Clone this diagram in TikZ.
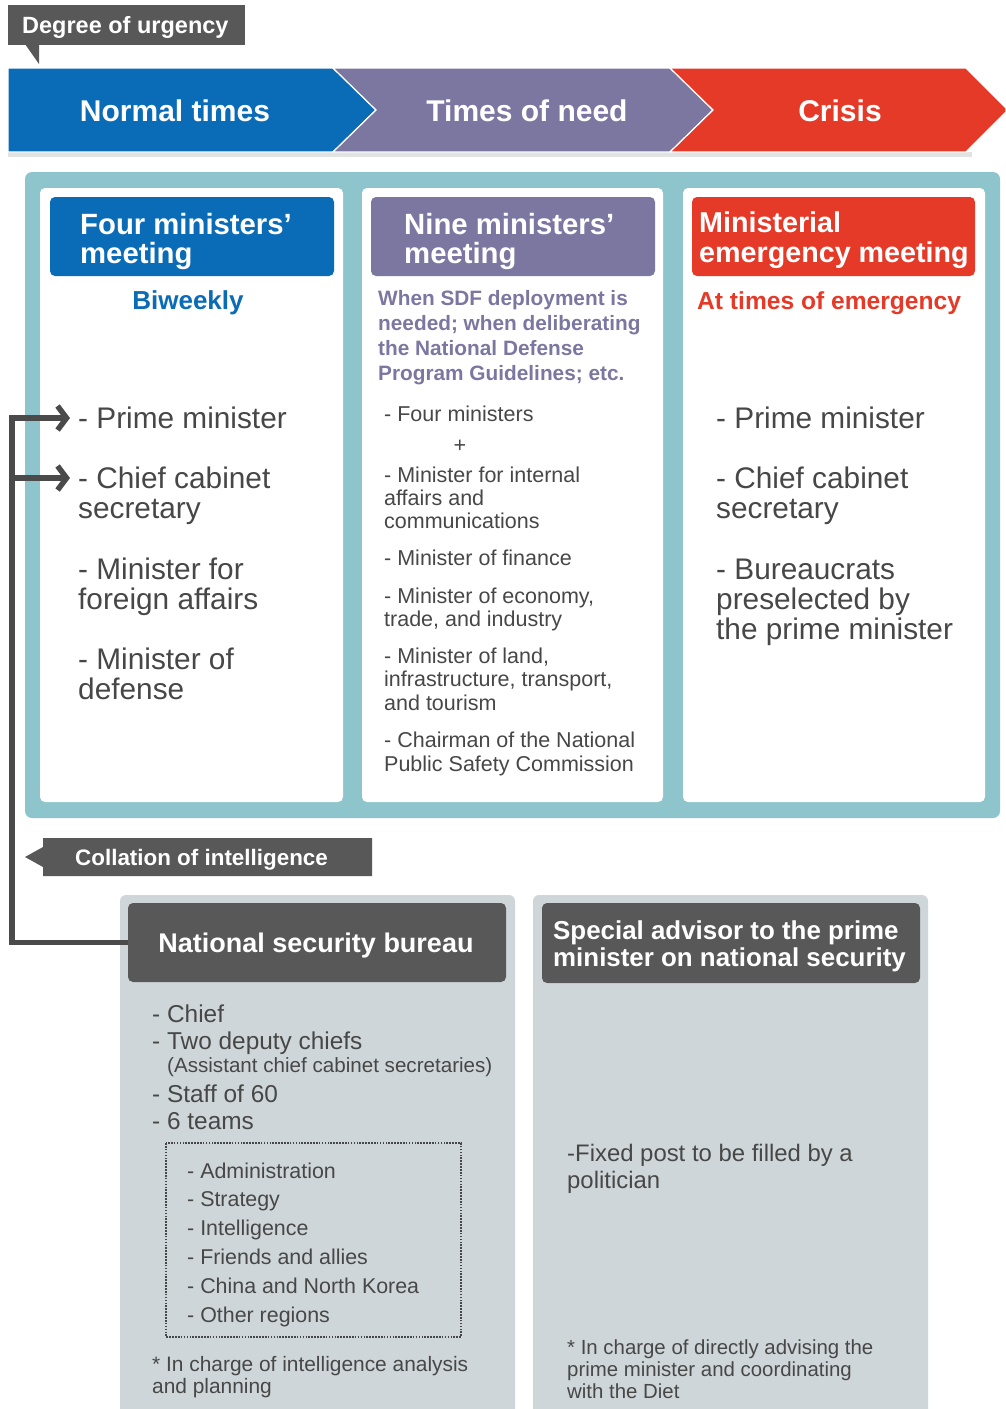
\documentclass[tikz,border=0pt]{standalone}
\usepackage{fontspec}
\setmainfont{Liberation Sans}
\usetikzlibrary{arrows.meta}
\definecolor{cblue}{HTML}{0A6CB6}
\definecolor{cpurple}{HTML}{7C77A1}
\definecolor{cred}{HTML}{E63A28}
\definecolor{cteal}{HTML}{8EC5CC}
\definecolor{cdark}{HTML}{585858}
\definecolor{cpanel}{HTML}{CFD6DA}
\definecolor{ctext}{HTML}{474747}
\definecolor{cconn}{HTML}{4A4A4A}
\definecolor{cshadow}{HTML}{E2E4E4}
\newcommand\myfs[2]{\fontsize{#1}{#2}\selectfont}
\begin{document}
\begin{tikzpicture}[x=1pt,y=-1pt,
  txt/.style={anchor=base west,inner sep=0pt,align=left,text=ctext},
  wtxt/.style={anchor=base west,inner sep=0pt,align=left,text=white},
  hbox/.style={rounded corners=5pt,inner sep=0pt,minimum width=284pt,minimum height=79pt},
  col/.style={fill=white,rounded corners=5pt},
  chev/.style={draw=white,line width=1.2pt,line join=miter},
  conn/.style={draw=cconn,line width=5.5pt},
  tip/.style={-{Straight Barb[length=9pt,width=24pt]},shorten >=8pt},
]
\useasboundingbox (0,0) rectangle (1006,1409);
\fill[white] (0,0) rectangle (1006,1409);

% degree of urgency tag
\fill[cdark] (8,5) rectangle (245,45);
\fill[cdark] (25,44) -- (39,44) -- (39,64) -- cycle;
\node[wtxt,font=\bfseries\myfs{23.5}{23.5}] (deg) at (22,33) {Degree of urgency};

% banner
\fill[cshadow] (8,152) rectangle (972,157);
\filldraw[chev,fill=cblue] (8,68) -- (333,68) -- (376,110) -- (333,152) -- (8,152) -- cycle;
\filldraw[chev,fill=cpurple] (333,68) -- (670,68) -- (713,110) -- (670,152) -- (333,152) -- (376,110) -- cycle;
\filldraw[chev,fill=cred] (670,68) -- (966,68) -- (1006,108) -- (1006,112) -- (966,152) -- (670,152) -- (713,110) -- cycle;
\node[anchor=base,inner sep=0pt,text=white,font=\bfseries\myfs{30}{30}] (b1) at (175,121) {Normal times};
\node[anchor=base,inner sep=0pt,text=white,font=\bfseries\myfs{30}{30}] (b2) at (527,121) {Times of need};
\node[anchor=base,inner sep=0pt,text=white,font=\bfseries\myfs{30}{30}] (b3) at (840,121) {Crisis};

% teal panel and columns
\fill[cteal,rounded corners=7pt] (25,172) rectangle (1000,818);
\fill[col] (40,188) rectangle (343,802);
\fill[col] (362,188) rectangle (663,802);
\fill[col] (683,188) rectangle (985,802);

% header boxes
\node[hbox,fill=cblue] (h1) at (192,236.5) {};
\node[hbox,fill=cpurple] (h2) at (513,236.5) {};
\node[hbox,fill=cred,minimum width=283pt] (h3) at (833.5,236.5) {};
\node[wtxt,font=\bfseries\myfs{29.3}{29}] (h1t) at (80,263) {Four ministers’\\meeting};
\node[wtxt,font=\bfseries\myfs{29.3}{29}] (h2t) at (404,263) {Nine ministers’\\meeting};
\node[wtxt,font=\bfseries\myfs{28.7}{30}] (h3t) at (699,262) {Ministerial\\emergency meeting};

% sub captions
\node[anchor=base,inner sep=0pt,text=cblue,font=\bfseries\myfs{26}{26}] (s1) at (188,309) {Biweekly};
\node[txt,text=cpurple,font=\bfseries\myfs{20.8}{25}] (s2) at (378,380) {When SDF deployment is\\needed; when deliberating\\the National Defense\\Program Guidelines; etc.};
\node[txt,text=cred,font=\bfseries\myfs{24.6}{25}] (s3) at (697,309) {At times of emergency};

% column 1
\node[txt,font=\myfs{29.8}{30}] (c1a) at (78,428) {- Prime minister};
\node[txt,font=\myfs{29.8}{30}] (c1b) at (78,518) {- Chief cabinet\\secretary};
\node[txt,font=\myfs{29.8}{30}] (c1c) at (78,609) {- Minister for\\foreign affairs};
\node[txt,font=\myfs{29.8}{30}] (c1d) at (78,699) {- Minister of\\defense};

% column 2
\node[txt,font=\myfs{21.5}{23}] (c2a) at (384,421) {- Four ministers};
\node[anchor=base,inner sep=0pt,text=ctext,font=\myfs{21.5}{23}] (c2p) at (460,452) {+};
\node[txt,font=\myfs{21.5}{23}] (c2b) at (384,528) {- Minister for internal\\affairs and\\communications};
\node[txt,font=\myfs{21.5}{23}] (c2c) at (384,565) {- Minister of finance};
\node[txt,font=\myfs{21.5}{23}] (c2d) at (384,626) {- Minister of economy,\\trade, and industry};
\node[txt,font=\myfs{21.5}{23.5}] (c2e) at (384,710) {- Minister of land,\\infrastructure, transport,\\and tourism};
\node[txt,font=\myfs{21.5}{24}] (c2f) at (384,771) {- Chairman of the National\\Public Safety Commission};

% column 3
\node[txt,font=\myfs{29.8}{30}] (c3a) at (716,428) {- Prime minister};
\node[txt,font=\myfs{29.8}{30}] (c3b) at (716,518) {- Chief cabinet\\secretary};
\node[txt,font=\myfs{29.8}{30}] (c3c) at (716,639) {- Bureaucrats\\preselected by\\the prime minister};

% collation tag
\fill[cdark] (43,838) -- (372,838) -- (372,876) -- (43,876) -- (43,867) -- (25,857) -- (43,847) -- cycle;
\node[wtxt,font=\bfseries\myfs{22.4}{23}] (col) at (75,865) {Collation of intelligence};

% bottom panels
\fill[cpanel] (120,1409) {[rounded corners=6pt] -- (120,895) -- (515,895)} -- (515,1409) -- cycle;
\fill[cpanel] (533,1409) {[rounded corners=6pt] -- (533,895) -- (928,895)} -- (928,1409) -- cycle;
\node[hbox,fill=cdark,minimum width=378pt] (nsb) at (317,942.5) {};
\node[hbox,fill=cdark,minimum width=378pt,minimum height=80pt] (spa) at (731,943) {};
\node[anchor=base,inner sep=0pt,text=white,font=\bfseries\myfs{27}{27}] (nsbt) at (316,952) {National security bureau};
\node[wtxt,font=\bfseries\myfs{25.9}{27}] (spat) at (553,966) {Special advisor to the prime\\minister on national security};

% NSB contents
\node[txt,font=\myfs{24.4}{27}] (n1) at (152,1022) {- Chief};
\node[txt,font=\myfs{24.4}{27}] (n2) at (152,1049) {- Two deputy chiefs};
\node[txt,font=\myfs{20.6}{22}] (n3) at (167,1072) {(Assistant chief cabinet secretaries)};
\node[txt,font=\myfs{24.4}{27}] (n4) at (152,1102) {- Staff of 60};
\node[txt,font=\myfs{24.4}{27}] (n5) at (152,1129) {- 6 teams};
\draw[ctext,line width=1.8pt,dash pattern=on 1.6pt off 1.3pt] (166,1143) rectangle (461,1337);
\node[txt,font=\myfs{21.4}{28.8}] (teams) at (187,1322) {- Administration\\- Strategy\\- Intelligence\\- Friends and allies\\- China and North Korea\\- Other regions};
\node[txt,font=\myfs{20.9}{22}] (nf) at (152,1393) {* In charge of intelligence analysis\\and planning};

% special advisor contents
\node[txt,font=\myfs{23.9}{27}] (sp1) at (567,1188) {-Fixed post to be filled by a\\politician};
\node[txt,font=\myfs{20.4}{22}] (spf) at (567,1398) {* In charge of directly advising the\\prime minister and coordinating\\with the Diet};

% connector
\coordinate (tb) at (12,942.5);
\coordinate (pmA) at ([yshift=10pt]c1a.base west);
\coordinate (ccA) at ([yshift=40pt]c1b.base west);
\draw[conn,tip,line join=miter] (nsb.west) -- (tb) |- (pmA);
\draw[conn,tip] (tb) |- (ccA);
\end{tikzpicture}
\end{document}
